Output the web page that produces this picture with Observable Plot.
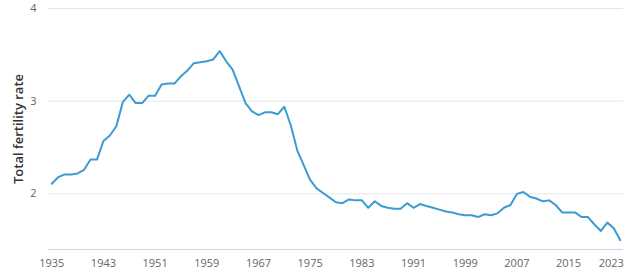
<!DOCTYPE html>
<html>
<head>
<meta charset="utf-8">
<script src="https://cdn.jsdelivr.net/npm/d3@7"></script>
<script src="https://cdn.jsdelivr.net/npm/@observablehq/plot@0.6"></script>
<style>
  html, body { margin: 0; padding: 0; background: #fff; }
  #chart svg { display: block; }
</style>
</head>
<body>
<div id="chart"></div>
<script>
const years = d3.range(1935, 2024);
const tfr = [
  2.11, 2.18, 2.21, 2.21, 2.22, 2.26, 2.37, 2.37, 2.57, 2.63,
  2.73, 2.99, 3.07, 2.98, 2.98, 3.06, 3.06, 3.18, 3.19, 3.19,
  3.27, 3.33, 3.41, 3.42, 3.43, 3.45, 3.54, 3.43, 3.34, 3.16,
  2.98, 2.89, 2.85, 2.88, 2.88, 2.86, 2.94, 2.74, 2.47, 2.31,
  2.15, 2.06, 2.01, 1.96, 1.91, 1.90, 1.94, 1.93, 1.93, 1.85,
  1.92, 1.87, 1.85, 1.84, 1.84, 1.90, 1.85, 1.89, 1.87, 1.85,
  1.83, 1.81, 1.80, 1.78, 1.77, 1.77, 1.75, 1.78, 1.77, 1.79,
  1.85, 1.88, 2.00, 2.02, 1.97, 1.95, 1.92, 1.93, 1.88, 1.80,
  1.80, 1.80, 1.75, 1.75, 1.67, 1.60, 1.69, 1.63, 1.50
];
const xTicks = [1935, 1943, 1951, 1959, 1967, 1975, 1983, 1991, 1999, 2007, 2015];
const xLastTick = [2023];
const yTicks = [2, 3, 4];
const yLabel = "Total fertility rate";

const data = years.map((y, i) => ({year: y, value: tfr[i]}));

const font = "'Open Sans', 'Noto Sans', sans-serif";

const chart = Plot.plot({
  width: 638,
  height: 274,
  marginLeft: 48,
  marginRight: 15,
  marginTop: 8,
  marginBottom: 25,
  style: {fontFamily: font, fontSize: "11px", color: "#666", background: "#fff"},
  x: {domain: [1934.5, 2023.5]},
  y: {domain: [1.4, 4]},
  marks: [
    Plot.gridY(yTicks, {stroke: "#e6e6e6", strokeOpacity: 1, strokeWidth: 1}),
    Plot.ruleY([1.4], {stroke: "#ccd6eb", strokeWidth: 1}),
    Plot.axisY({ticks: yTicks, tickSize: 0, tickPadding: 12, tickFormat: d => String(d), fill: "#666", fontSize: 11, label: null}),
    Plot.axisX({ticks: xTicks, tickSize: 0, tickPadding: 10, tickFormat: d => String(d), fill: "#666", fontSize: 11, label: null}),
    Plot.axisX({ticks: xLastTick, tickSize: 0, tickPadding: 10, dx: -9, tickFormat: d => String(d), fill: "#666", fontSize: 11, label: null}),
    Plot.line(data, {x: "year", y: "value", stroke: "#3d9bd3", strokeWidth: 2, strokeLinejoin: "round", strokeLinecap: "round"}),
    Plot.text([yLabel], {frameAnchor: "left", textAnchor: "middle", dx: -30, rotate: -90, text: d => d, fontSize: 13, fontWeight: 600, fill: "#333"})
  ]
});
document.getElementById("chart").appendChild(chart);
</script>
</body>
</html>
